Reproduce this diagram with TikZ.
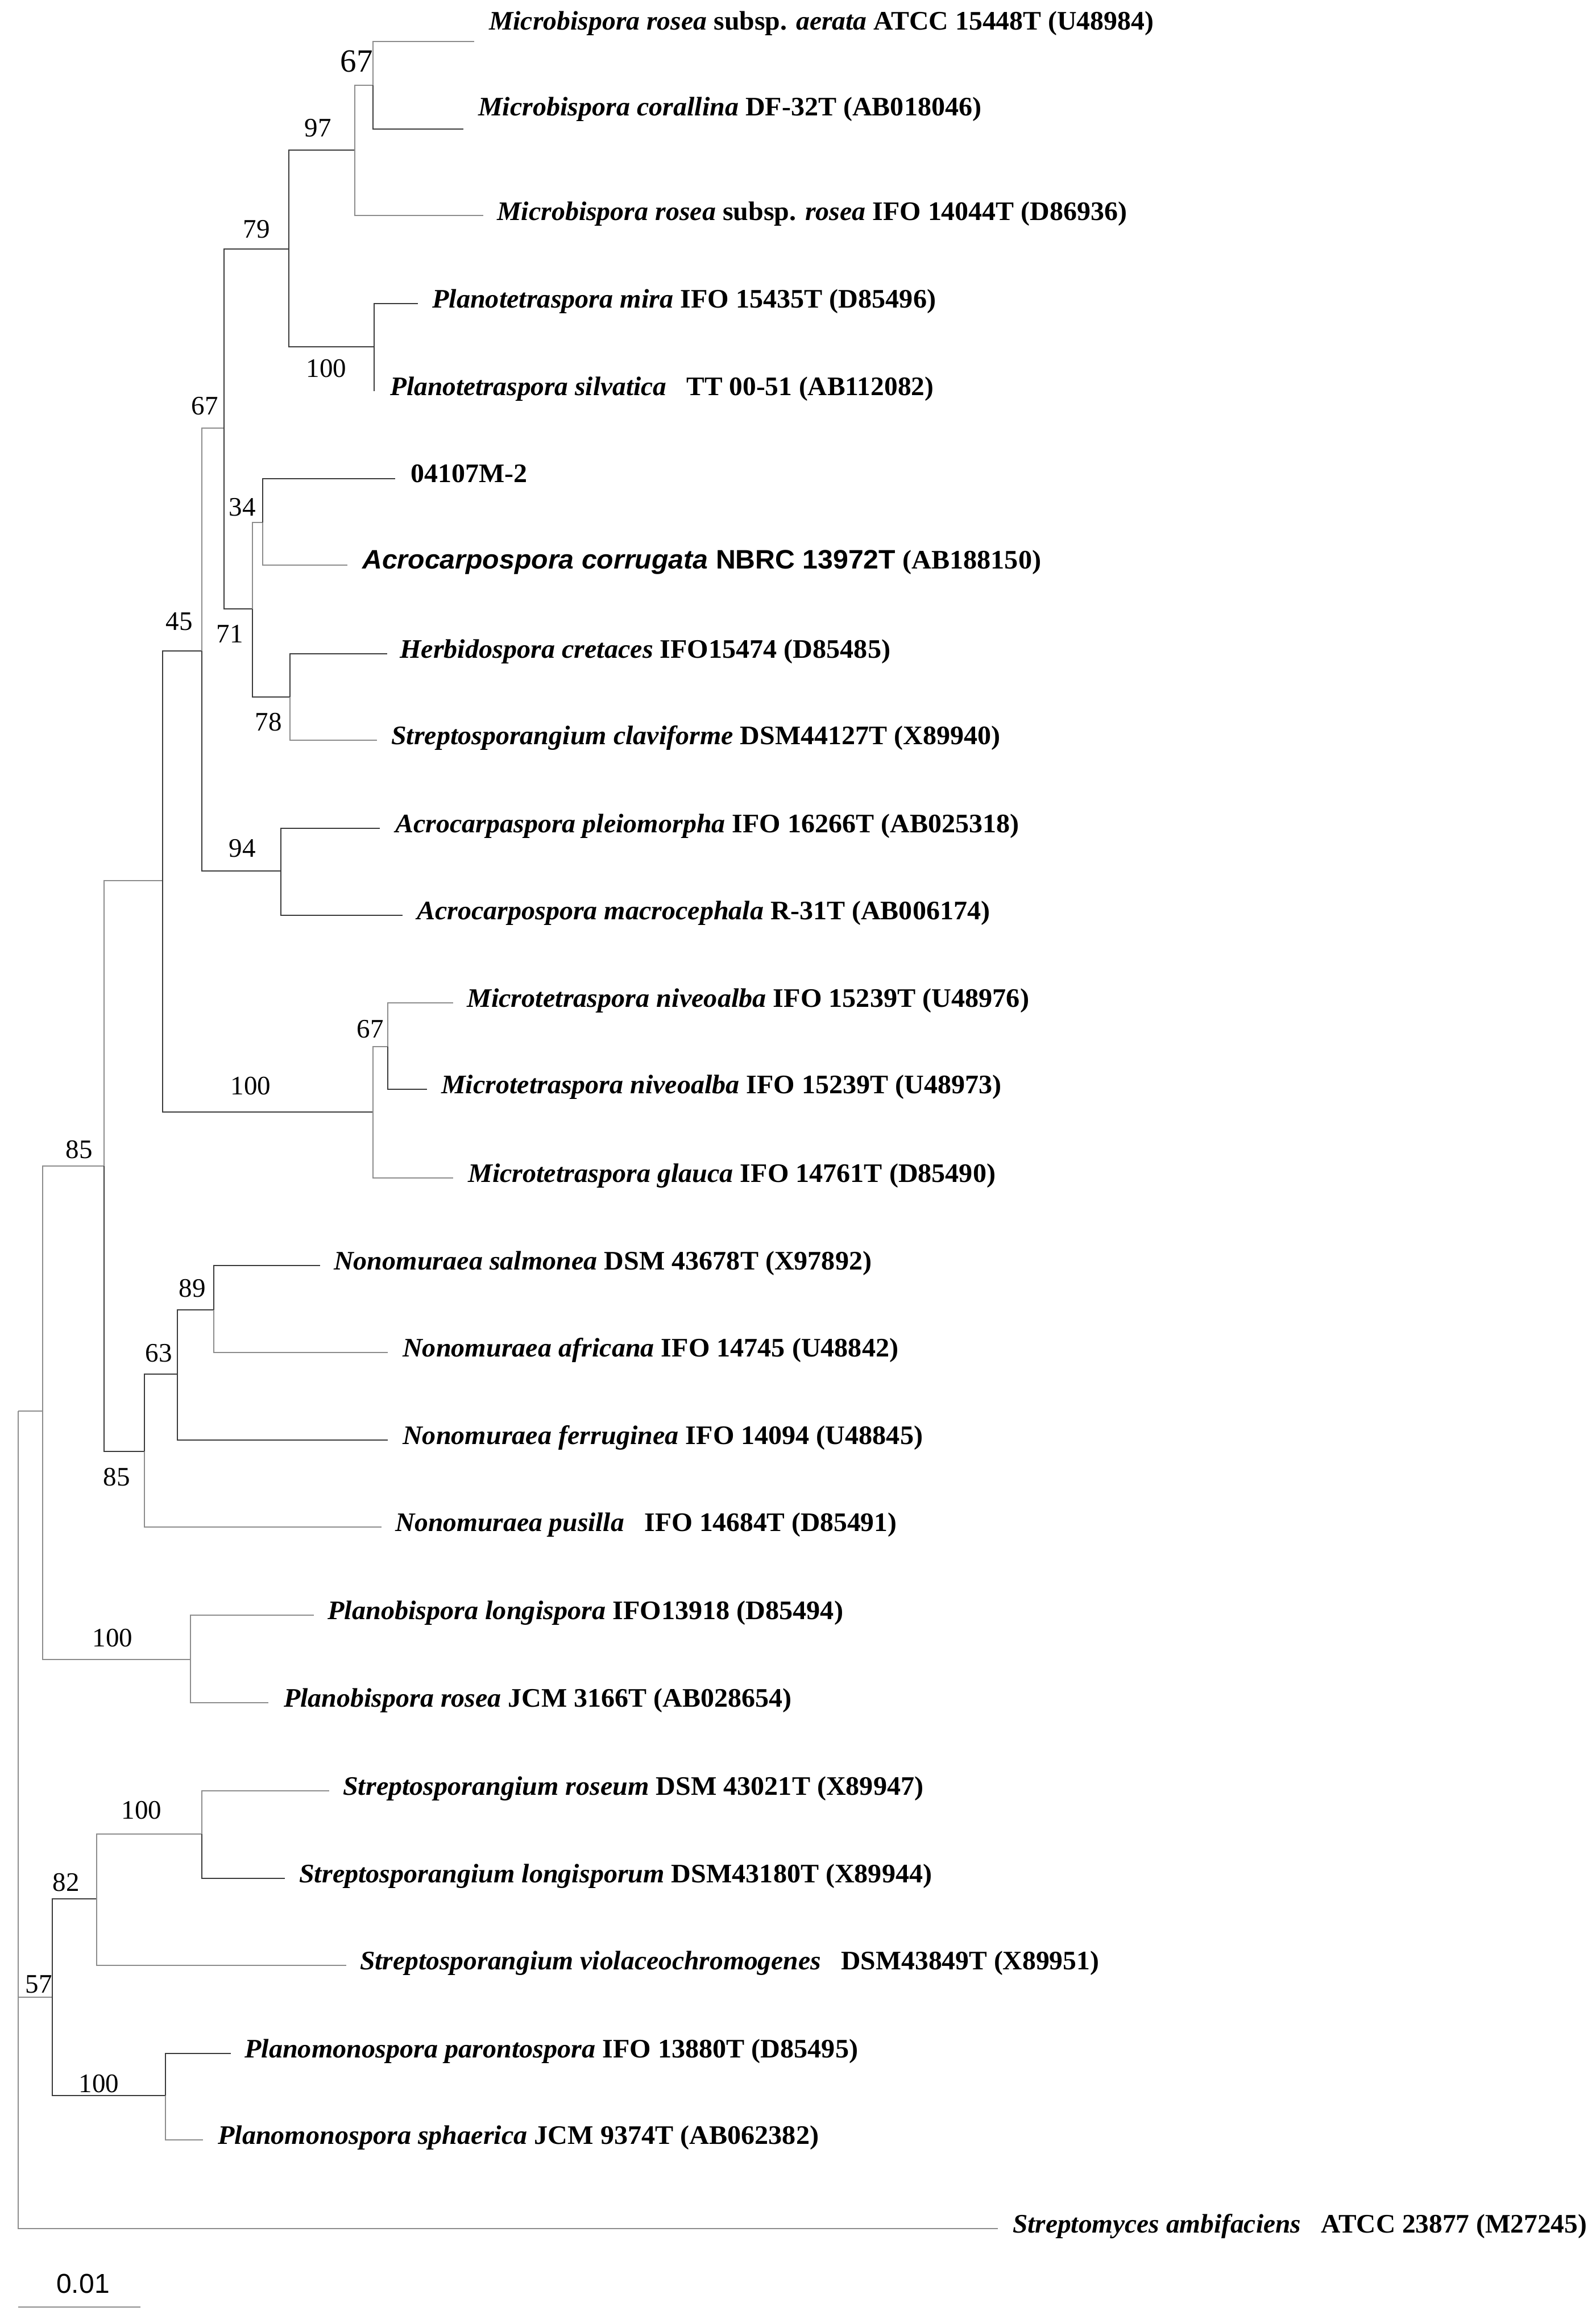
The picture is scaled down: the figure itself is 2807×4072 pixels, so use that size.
\documentclass[tikz,border=0pt]{standalone}
\usepackage{graphicx}
\usepackage{fontspec}
\setmainfont{Liberation Serif}
\newfontfamily\arialf{Liberation Sans}
\newlength\fitlen
\newcommand\fitw[2]{\settowidth\fitlen{#2}\pgfmathsetmacro\fitsx{#1/\fitlen}\scalebox{\fitsx}[1]{#2}}
\definecolor{dk}{HTML}{3A3A3A}
\definecolor{gy}{HTML}{8C8C8C}
\tikzset{
  br/.style={draw=dk, line width=2.6pt},
  brg/.style={draw=gy, line width=2.6pt},
  lbl/.style={anchor=base west, inner sep=0pt, font=\fontsize{47}{50}\selectfont\bfseries},
  bs/.style={inner sep=0pt, font=\fontsize{47}{50}\selectfont},
}
\begin{document}
\begin{tikzpicture}[x=1pt,y=-1pt]
\useasboundingbox (0,0) rectangle (2807,4072);
\fill[white] (0,0) rectangle (2807,4072);
% internal nodes
\coordinate (r) at (32,2482);
\coordinate (n75) at (75,2482);
\coordinate (n183) at (183,2051);
\coordinate (n286) at (286,1549);
\coordinate (n355) at (355,1145);
\coordinate (n394) at (394,753);
\coordinate (n508) at (508,438);
\coordinate (n624) at (624,264);
\coordinate (n656) at (656,150);
\coordinate (n658) at (658,610);
\coordinate (n444) at (444,1071);
\coordinate (n462) at (462,919);
\coordinate (n510) at (510,1226);
\coordinate (n494) at (494,1532);
\coordinate (n656m) at (656,1956);
\coordinate (n682) at (682,1841);
\coordinate (n254) at (254,2553);
\coordinate (n312) at (312,2417);
\coordinate (n376) at (376,2304);
\coordinate (n335) at (335,2919);
\coordinate (n92) at (92,3513);
\coordinate (n170) at (170,3340);
\coordinate (n355s) at (355,3226);
\coordinate (n291) at (291,3686);
% leaf tips
\coordinate (t1) at (834,73);
\coordinate (t2) at (815,227);
\coordinate (t3) at (850,379);
\coordinate (t4) at (735,534);
\coordinate (t5) at (658,688);
\coordinate (t6) at (695,842);
\coordinate (t7) at (611,994);
\coordinate (t8) at (681,1150);
\coordinate (t9) at (663,1302);
\coordinate (t10) at (668,1457);
\coordinate (t11) at (708,1610);
\coordinate (t12) at (797,1764);
\coordinate (t13) at (751,1916);
\coordinate (t14) at (797,2072);
\coordinate (t15) at (563,2226);
\coordinate (t16) at (682,2379);
\coordinate (t17) at (682,2533);
\coordinate (t18) at (671,2686);
\coordinate (t19) at (552,2841);
\coordinate (t20) at (472,2995);
\coordinate (t21) at (579,3150);
\coordinate (t22) at (501,3304);
\coordinate (t23) at (609,3457);
\coordinate (t24) at (406,3612);
\coordinate (t25) at (357,3764);
\coordinate (t26) at (1755,3920);
% branches
\draw[brg] (r) |- (n75);
\draw[brg] (r) |- (n92);
\draw[brg] (r) |- (t26);
\draw[brg] (n75) |- (n183);
\draw[brg] (n75) |- (n335);
\draw[brg] (n183) |- (n286);
\draw[br] (n183) |- (n254);
\draw[br] (n286) |- (n355);
\draw[br] (n286) |- (n656m);
\draw[brg] (n355) |- (n394);
\draw[br] (n355) |- (n494);
\draw[br] (n394) |- (n508);
\draw[br] (n394) |- (n444);
\draw[br] (n508) |- (n624);
\draw[br] (n508) |- (n658);
\draw[brg] (n624) |- (n656);
\draw[brg] (n624) |- (t3);
\draw[brg] (n656) |- (t1);
\draw[br] (n656) |- (t2);
\draw[br] (n658) |- (t4);
\draw[br] (n658) |- (t5);
\draw[brg] (n444) |- (n462);
\draw[br] (n444) |- (n510);
\draw[br] (n462) |- (t6);
\draw[brg] (n462) |- (t7);
\draw[br] (n510) |- (t8);
\draw[brg] (n510) |- (t9);
\draw[br] (n494) |- (t10);
\draw[br] (n494) |- (t11);
\draw[brg] (n656m) |- (n682);
\draw[brg] (n656m) |- (t14);
\draw[brg] (n682) |- (t12);
\draw[br] (n682) |- (t13);
\draw[br] (n254) |- (n312);
\draw[brg] (n254) |- (t18);
\draw[br] (n312) |- (n376);
\draw[br] (n312) |- (t17);
\draw[br] (n376) |- (t15);
\draw[brg] (n376) |- (t16);
\draw[brg] (n335) |- (t19);
\draw[brg] (n335) |- (t20);
\draw[br] (n92) |- (n170);
\draw[br] (n92) |- (n291);
\draw[brg] (n170) |- (n355s);
\draw[brg] (n170) |- (t23);
\draw[brg] (n355s) |- (t21);
\draw[br] (n355s) |- (t22);
\draw[br] (n291) |- (t24);
\draw[brg] (n291) |- (t25);
% leaf labels
\node[lbl] (l1) at (860,52) {\fitw{1169}{\textit{Microbispora rosea} subsp. \textit{aerata} ATCC 15448T (U48984)}};
\node[lbl] (l2) at (841,203) {\fitw{885}{\textit{Microbispora corallina} DF-32T (AB018046)}};
\node[lbl] (l3) at (874,387) {\fitw{1108}{\textit{Microbispora rosea} subsp. \textit{rosea} IFO 14044T (D86936)}};
\node[lbl] (l4) at (760,541) {\fitw{886}{\textit{Planotetraspora mira} IFO 15435T (D85496)}};
\node[lbl] (l5) at (686,695) {\fitw{956}{\textit{Planotetraspora silvatica}\hspace{0.5em} TT 00-51 (AB112082)}};
\node[lbl] (l6) at (722,848) {\fitw{205}{04107M-2}};
\node[lbl] (l7) at (637,1000) {\fitw{1194}{{\arialf\textit{Acrocarpospora corrugata} NBRC 13972T} (AB188150)}};
\node[lbl] (l8) at (703,1157) {\fitw{863}{\textit{Herbidospora cretaces} IFO15474 (D85485)}};
\node[lbl] (l9) at (688,1309) {\fitw{1071}{\textit{Streptosporangium claviforme} DSM44127T (X89940)}};
\node[lbl] (l10) at (695,1464) {\fitw{1097}{\textit{Acrocarpaspora pleiomorpha} IFO 16266T (AB025318)}};
\node[lbl] (l11) at (733,1617) {\fitw{1008}{\textit{Acrocarpospora macrocephala} R-31T (AB006174)}};
\node[lbl] (l12) at (821,1771) {\fitw{989}{\textit{Microtetraspora niveoalba} IFO 15239T (U48976)}};
\node[lbl] (l13) at (776,1923) {\fitw{985}{\textit{Microtetraspora niveoalba} IFO 15239T (U48973)}};
\node[lbl] (l14) at (823,2079) {\fitw{928}{\textit{Microtetraspora glauca} IFO 14761T (D85490)}};
\node[lbl] (l15) at (587,2233) {\fitw{946}{\textit{Nonomuraea salmonea} DSM 43678T (X97892)}};
\node[lbl] (l16) at (708,2386) {\fitw{872}{\textit{Nonomuraea africana} IFO 14745 (U48842)}};
\node[lbl] (l17) at (708,2540) {\fitw{915}{\textit{Nonomuraea ferruginea} IFO 14094 (U48845)}};
\node[lbl] (l18) at (695,2693) {\fitw{882}{\textit{Nonomuraea pusilla}\hspace{0.5em} IFO 14684T (D85491)}};
\node[lbl] (l19) at (576,2848) {\fitw{907}{\textit{Planobispora longispora} IFO13918 (D85494)}};
\node[lbl] (l20) at (499,3002) {\fitw{893}{\textit{Planobispora rosea} JCM 3166T (AB028654)}};
\node[lbl] (l21) at (603,3157) {\fitw{1021}{\textit{Streptosporangium roseum} DSM 43021T (X89947)}};
\node[lbl] (l22) at (526,3311) {\fitw{1113}{\textit{Streptosporangium longisporum} DSM43180T (X89944)}};
\node[lbl] (l23) at (633,3464) {\fitw{1300}{\textit{Streptosporangium violaceochromogenes}\hspace{0.5em} DSM43849T (X89951)}};
\node[lbl] (l24) at (430,3619) {\fitw{1079}{\textit{Planomonospora parontospora} IFO 13880T (D85495)}};
\node[lbl] (l25) at (383,3771) {\fitw{1057}{\textit{Planomonospora sphaerica} JCM 9374T (AB062382)}};
\node[lbl] (l26) at (1781,3927) {\fitw{1010}{\textit{Streptomyces ambifaciens}\hspace{0.5em} ATCC 23877 (M27245)}};
% bootstrap values
\node[bs, font=\fontsize{57}{60}\selectfont] (b1) at (627,108) {67};
\node[bs] (b2) at (559,225) {97};
\node[bs] (b3) at (451,403) {79};
\node[bs] (b4) at (574,648) {100};
\node[bs] (b5) at (360,714) {67};
\node[bs] (b6) at (426,892) {34};
\node[bs] (b7) at (315,1093) {45};
\node[bs] (b8) at (404,1115) {71};
\node[bs] (b9) at (472,1270) {78};
\node[bs] (b10) at (426,1492) {94};
\node[bs] (b11) at (651,1810) {67};
\node[bs] (b12) at (441,1910) {100};
\node[bs] (b13) at (139,2022) {85};
\node[bs] (b14) at (338,2266) {89};
\node[bs] (b15) at (279,2380) {63};
\node[bs] (b16) at (205,2598) {85};
\node[bs] (b17) at (198,2881) {100};
\node[bs] (b18) at (249,3184) {100};
\node[bs] (b19) at (116,3311) {82};
\node[bs] (b20) at (68,3490) {57};
\node[bs] (b21) at (174,3665) {100};
% scale bar
\coordinate (sb1) at (32,4058);
\coordinate (sb2) at (247,4058);
\draw[brg] (sb1) -- (sb2);
\node[inner sep=0pt, font=\arialf\fontsize{48}{50}\selectfont] (sbl) at (146,4017) {0.01};
\end{tikzpicture}
\end{document}
